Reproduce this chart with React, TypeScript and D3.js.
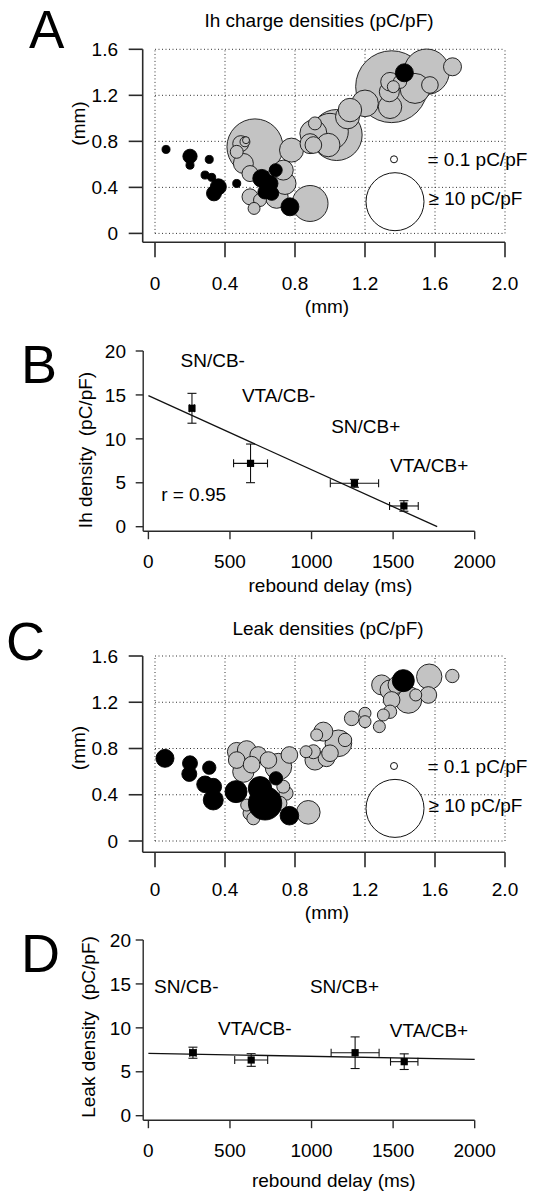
import React from "react";
import * as d3 from "d3";

const FONT = "'Liberation Sans', Arial, Helvetica, sans-serif";

// ---------- Panel A: Ih charge densities (x mm, y mm, density pC/pF) ----------
const ihBlack: [number, number, number][] = [
  [0.063, 0.73, 0.14], [0.2, 0.67, 0.52], [0.2, 0.593, 0.14], [0.31, 0.643, 0.14],
  [0.286, 0.507, 0.14], [0.324, 0.487, 0.14], [0.362, 0.405, 0.67], [0.337, 0.348, 0.58],
  [0.467, 0.434, 0.14], [0.61, 0.478, 0.86], [0.657, 0.434, 0.67], [0.69, 0.55, 0.42],
  [0.628, 0.36, 0.5], [0.667, 0.348, 0.5], [0.771, 0.231, 0.86], [1.425, 1.396, 0.865],
];
const ihGray: [number, number, number][] = [
  [0.571, 0.752, 9.3], [0.78, 0.724, 1.6], [0.467, 0.709, 0.42], [0.49, 0.78, 0.67],
  [0.514, 0.796, 0.23], [0.52, 0.81, 0.1], [0.505, 0.608, 1.08], [0.543, 0.52, 0.67],
  [0.543, 0.318, 0.67], [0.566, 0.217, 0.35], [0.6, 0.29, 0.42], [0.695, 0.318, 1.46],
  [0.743, 0.434, 1.33], [0.733, 0.55, 1.08], [0.886, 0.26, 3.74], [0.886, 0.78, 1.08],
  [0.905, 0.768, 0.73], [0.99, 0.768, 1.52], [1.0, 0.884, 3.88], [1.038, 0.855, 7.68],
  [0.914, 0.956, 0.42], [0.905, 0.869, 2.05], [1.1, 1.013, 1.6], [1.114, 1.072, 1.52],
  [1.2, 1.13, 2.0], [1.343, 1.1, 1.52], [1.352, 1.275, 15.5], [1.552, 1.405, 6.05],
  [1.7, 1.448, 0.865], [1.486, 1.26, 2.56], [1.571, 1.29, 0.73], [1.343, 1.318, 0.93],
  [1.362, 1.275, 0.354], [1.339, 1.231, 1.085], [1.4, 1.318, 0.45],
];

// ---------- Panel C: Leak densities ----------
const leakBlack: [number, number, number][] = [
  [0.057, 0.715, 0.865], [0.2, 0.672, 0.58], [0.196, 0.58, 0.58], [0.31, 0.634, 0.45],
  [0.286, 0.49, 0.73], [0.333, 0.47, 0.73], [0.333, 0.355, 1.085], [0.463, 0.427, 1.33],
  [0.6, 0.456, 1.52], [0.629, 0.326, 3.2], [0.691, 0.542, 0.45], [0.768, 0.219, 0.93],
  [1.419, 1.387, 1.33],
];
const leakGray: [number, number, number][] = [
  [0.467, 0.772, 0.93], [0.524, 0.787, 0.93], [0.59, 0.744, 0.73], [0.648, 0.7, 0.73],
  [0.705, 0.643, 2.0], [0.768, 0.744, 0.73], [0.467, 0.7, 0.73], [0.505, 0.6, 1.25],
  [0.552, 0.66, 0.73], [0.749, 0.413, 0.5], [0.733, 0.47, 0.42], [0.714, 0.326, 0.5],
  [0.543, 0.24, 0.5], [0.562, 0.196, 0.42], [0.524, 0.311, 0.354], [0.876, 0.248, 1.55],
  [0.863, 0.772, 0.354], [0.905, 0.772, 0.5], [0.914, 0.7, 1.085], [0.98, 0.715, 0.73],
  [1.0, 0.759, 0.73], [0.924, 0.917, 0.354], [0.962, 0.946, 0.97], [1.048, 0.845, 2.0],
  [1.086, 0.874, 0.45], [1.124, 1.061, 0.55], [1.2, 1.105, 0.354], [1.2, 1.032, 0.354],
  [1.282, 0.989, 0.354], [1.305, 1.09, 0.354], [1.343, 1.118, 0.45], [1.352, 1.22, 0.73],
  [1.295, 1.35, 1.085], [1.343, 1.306, 1.085], [1.38, 1.35, 0.76], [1.448, 1.22, 2.0],
  [1.49, 1.263, 0.354], [1.562, 1.263, 0.73], [1.567, 1.421, 1.8], [1.699, 1.427, 0.45],
];

const mmTicks = [0, 0.4, 0.8, 1.2, 1.6, 2.0];
const mmTickLabels = ["0", "0.4", "0.8", "1.2", "1.6", "2.0"];
const depthTicks = [0, 0.4, 0.8, 1.2, 1.6];
const depthTickLabels = ["0", "0.4", "0.8", "1.2", "1.6"];
const legendValues = [0.1, 10];
const legendLabels = ["= 0.1 pC/pF", "\u2265 10 pC/pF"];

// ---------- Panels B & D: group means vs rebound delay ----------
const groups = ["SN/CB-", "VTA/CB-", "SN/CB+", "VTA/CB+"];
const ihDelay = [267, 626, 1263, 1566];
const ihDelayErr = [15, 104, 148, 88];
const ihDensity = [13.48, 7.21, 4.94, 2.36];
const ihDensityErr = [1.7, 2.2, 0.45, 0.6];
const ihFit: [number, number][] = [[0, 14.91], [1770, 0]];
const ihLabelAt: [number, number][] = [[197, 18.2], [573, 14.23], [1120, 10.63], [1481, 6.26]];
const ihR = { text: "r = 0.95", at: [78, 2.96] as [number, number] };

const leakDelay = [273, 630, 1267, 1568];
const leakDelayErr = [20, 101, 147, 84];
const leakDensity = [7.17, 6.34, 7.17, 6.15];
const leakDensityErr = [0.63, 0.72, 1.8, 0.89];
const leakFit: [number, number][] = [[0, 7.1], [2000, 6.42]];
const leakLabelAt: [number, number][] = [[35, 13.97], [427, 9.19], [990, 13.97], [1480, 8.99]];

const delayTicks = [0, 500, 1000, 1500, 2000];
const densityTicks = [0, 5, 10, 15, 20];

const AX = "#2a2a2a";

function BubblePanel(p: any) {
  const x = d3.scaleLinear().domain([0, 2]).range([155, 505]);
  const y = d3.scaleLinear().domain([0, 1.6]).range([p.y0, p.y16]);
  const r = d3.scaleSqrt().domain([0.1, 10]).range([3.5, 29]);
  const yAxisX = 142.7;
  const sortDesc = (a: [number, number, number][]) => [...a].sort((u, v) => v[2] - u[2]);
  return (
    <g>
      <text x={p.letterX} y={p.letterY} fontSize={p.letterSize} fontFamily={FONT}>{p.letter}</text>
      <text x={p.titleX} y={p.titleY} fontSize={19} fontFamily={FONT} textAnchor="middle">{p.title}</text>
      {mmTicks.map((t) => (
        <line key={"gx" + t} x1={x(t)} x2={x(t)} y1={y(0)} y2={y(1.6)} stroke="#333" strokeWidth={1} strokeDasharray="1 2.5" />
      ))}
      {depthTicks.map((t) => (
        <line key={"gy" + t} x1={x(0)} x2={x(2)} y1={y(t)} y2={y(t)} stroke="#333" strokeWidth={1} strokeDasharray="1 2.5" />
      ))}
      {sortDesc(p.gray).map((d, i) => (
        <circle key={"g" + i} cx={x(d[0])} cy={y(d[1])} r={r(d[2])} fill="#c3c3c3" stroke="#111" strokeWidth={0.9} />
      ))}
      {sortDesc(p.black).map((d, i) => (
        <circle key={"b" + i} cx={x(d[0])} cy={y(d[1])} r={r(d[2])} fill="#000" stroke="#000" strokeWidth={0.9} />
      ))}
      <circle cx={394} cy={p.legY} r={r(legendValues[0])} fill="#fff" stroke="#111" strokeWidth={1} />
      <circle cx={395} cy={p.legY + 42.4} r={r(legendValues[1])} fill="#fff" stroke="#111" strokeWidth={1} />
      <text x={427.5} y={p.legY + 6.5} fontSize={19} fontFamily={FONT}>{legendLabels[0]}</text>
      <text x={428.5} y={p.legY + 46} fontSize={19} fontFamily={FONT}>{legendLabels[1]}</text>
      <line x1={yAxisX} x2={yAxisX} y1={y(1.6)} y2={p.axisY} stroke={AX} strokeWidth={1.6} />
      <line x1={yAxisX} x2={x(2)} y1={p.axisY} y2={p.axisY} stroke={AX} strokeWidth={1.6} />
      {depthTicks.map((t, i) => (
        <g key={"yt" + t}>
          <line x1={yAxisX - 14} x2={yAxisX} y1={y(t)} y2={y(t)} stroke={AX} strokeWidth={1.6} />
          <text x={118} y={y(t)} dy="0.35em" fontSize={19} fontFamily={FONT} textAnchor="end">{depthTickLabels[i]}</text>
        </g>
      ))}
      {mmTicks.map((t, i) => (
        <g key={"xt" + t}>
          <line x1={x(t)} x2={x(t)} y1={p.axisY} y2={p.axisY + 15} stroke={AX} strokeWidth={1.6} />
          <text x={x(t)} y={p.tickBase} fontSize={19} fontFamily={FONT} textAnchor="middle">{mmTickLabels[i]}</text>
        </g>
      ))}
      <text x={327} y={p.xlabBase} fontSize={19} fontFamily={FONT} textAnchor="middle">(mm)</text>
      <text transform={`translate(78.3,${p.ylabY}) rotate(-90)`} dy="0.35em" fontSize={19} fontFamily={FONT} textAnchor="middle">(mm)</text>
    </g>
  );
}

function ErrorPanel(p: any) {
  const x = d3.scaleLinear().domain([0, 2000]).range([148.4, 474.7]);
  const y = d3.scaleLinear().domain([0, 20]).range([p.y0, p.y20]);
  const yAxisX = 143.2;
  const axisY = p.y0 + 4.5;
  const line = d3.line<[number, number]>().x((d) => x(d[0])).y((d) => y(d[1]));
  return (
    <g fontFamily={FONT}>
      <text x={p.letterX} y={p.letterY} fontSize={54}>{p.letter}</text>
      <line x1={yAxisX} x2={yAxisX} y1={y(20)} y2={axisY} stroke={AX} strokeWidth={1.4} />
      <line x1={yAxisX} x2={x(2000)} y1={axisY} y2={axisY} stroke={AX} strokeWidth={1.4} />
      {densityTicks.map((t) => (
        <g key={"yt" + t}>
          <line x1={yAxisX - 7.5} x2={yAxisX} y1={y(t)} y2={y(t)} stroke={AX} strokeWidth={1.4} />
          <text x={p.yLabRight} y={y(t)} dy="0.35em" fontSize={19} textAnchor="end">{t}</text>
        </g>
      ))}
      {delayTicks.map((t) => (
        <g key={"xt" + t}>
          <line x1={x(t)} x2={x(t)} y1={axisY} y2={axisY + 8} stroke={AX} strokeWidth={1.4} />
          <text x={x(t)} y={axisY + 36.5} fontSize={19} textAnchor="middle">{t}</text>
        </g>
      ))}
      <text x={p.xlabX} y={p.xlabBase} fontSize={19} textAnchor="middle">rebound delay (ms)</text>
      <text transform={`translate(${p.ylabX},${p.ylabY}) rotate(-90)`} dy="0.35em" fontSize={19} textAnchor="middle" style={{ whiteSpace: "pre" }}>{p.ylabel}</text>
      <path d={line(p.fit) || ""} fill="none" stroke="#111" strokeWidth={1.3} />
      {groups.map((g, i) => {
        const cx = x(p.delay[i]);
        const cy = y(p.density[i]);
        const x1 = x(p.delay[i] - p.delayErr[i]);
        const x2 = x(p.delay[i] + p.delayErr[i]);
        const y1 = y(p.density[i] - p.densityErr[i]);
        const y2 = y(p.density[i] + p.densityErr[i]);
        return (
          <g key={g} stroke="#111" strokeWidth={1.1}>
            <line x1={cx} x2={cx} y1={y1} y2={y2} />
            <line x1={cx - 4.5} x2={cx + 4.5} y1={y1} y2={y1} />
            <line x1={cx - 4.5} x2={cx + 4.5} y1={y2} y2={y2} />
            <line x1={x1} x2={x2} y1={cy} y2={cy} />
            <line x1={x1} x2={x1} y1={cy - 4} y2={cy + 4} />
            <line x1={x2} x2={x2} y1={cy - 4} y2={cy + 4} />
            <rect x={cx - 3.6} y={cy - 3.6} width={7.2} height={7.2} fill="#000" stroke="none" />
          </g>
        );
      })}
      {groups.map((g, i) => (
        <text key={"l" + g} x={x(p.labelAt[i][0])} y={y(p.labelAt[i][1])} fontSize={19}>{g}</text>
      ))}
      {p.rText ? <text x={x(p.rText.at[0])} y={y(p.rText.at[1])} fontSize={19}>{p.rText.text}</text> : null}
    </g>
  );
}

export default function App() {
  return (
    <svg width={534} height={1199} style={{ position: "absolute", left: 0, top: 0, background: "#fff" }}>
      <rect x={0} y={0} width={534} height={1199} fill="#fff" />
      <BubblePanel
        letter="A" letterX={29} letterY={48} letterSize={53}
        title="Ih charge densities (pC/pF)" titleX={319} titleY={26.7}
        y0={233.4} y16={49.3} axisY={242.3} tickBase={289.5} xlabBase={313} ylabY={123.5}
        legY={159.3} black={ihBlack} gray={ihGray}
      />
      <ErrorPanel
        letter="B" letterX={21} letterY={383.3}
        y0={526.7} y20={351} yLabRight={126}
        xlabX={330.4} xlabBase={591.5} ylabX={85} ylabY={450}
        ylabel="Ih density  (pC/pF)"
        delay={ihDelay} delayErr={ihDelayErr} density={ihDensity} densityErr={ihDensityErr}
        fit={ihFit} labelAt={ihLabelAt} rText={ihR}
      />
      <BubblePanel
        letter="C" letterX={6} letterY={660} letterSize={54}
        title="Leak densities (pC/pF)" titleX={328} titleY={635}
        y0={841} y16={656} axisY={852.3} tickBase={896} xlabBase={919} ylabY={748}
        legY={766} black={leakBlack} gray={leakGray}
      />
      <ErrorPanel
        letter="D" letterX={21} letterY={971.7}
        y0={1115.7} y20={940} yLabRight={131}
        xlabX={333.8} xlabBase={1186.7} ylabX={88.6} ylabY={1027}
        ylabel="Leak density  (pC/pF)"
        delay={leakDelay} delayErr={leakDelayErr} density={leakDensity} densityErr={leakDensityErr}
        fit={leakFit} labelAt={leakLabelAt} rText={null}
      />
    </svg>
  );
}
